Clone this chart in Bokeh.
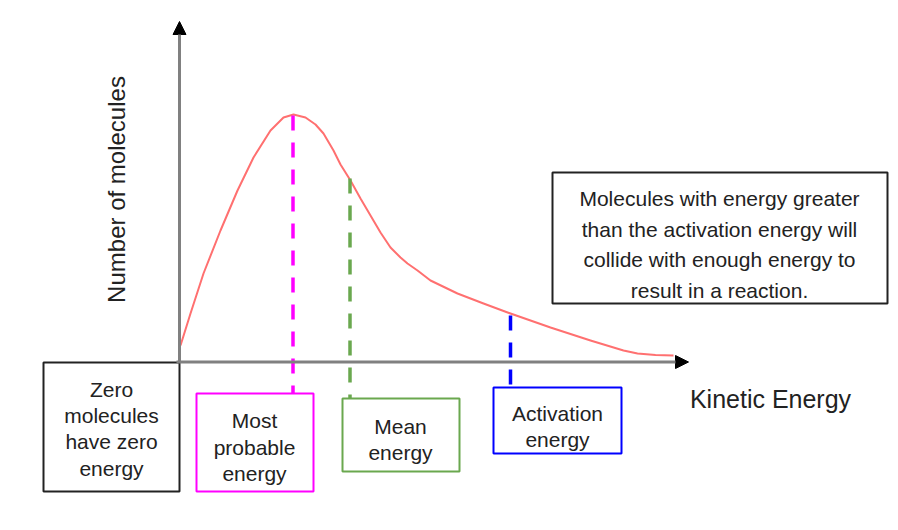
from bokeh.plotting import figure
from bokeh.models import Range1d, Arrow, NormalHead
from bokeh.core.properties import value
from bokeh.embed import file_html
from bokeh.resources import INLINE

# ---- data (energy units; 1 unit ~ 50 px in the reference) ----
energy = [0.02, 0.22, 0.48, 0.82, 1.16, 1.48, 1.82, 2.08, 2.28, 2.52, 2.72, 2.88, 3.08, 3.22,
          3.42, 3.62, 3.82, 4.02, 4.22, 4.42, 4.56, 4.76, 5.02, 5.56, 6.08, 6.62, 7.42, 8.22,
          8.88, 9.16, 9.52, 9.88]
molecules = [0.33, 0.97, 1.77, 2.63, 3.43, 4.09, 4.63, 4.89, 4.95, 4.89, 4.75, 4.57, 4.23, 3.95,
             3.63, 3.27, 2.93, 2.59, 2.29, 2.09, 1.97, 1.83, 1.63, 1.37, 1.17, 0.97, 0.69, 0.43,
             0.23, 0.17, 0.14, 0.13]

mark_names = ["Most probable energy", "Mean energy", "Activation energy"]
mark_energy = [2.27, 3.41, 6.62]
mark_height = [4.93, 3.67, 0.93]
mark_colors = ["#ff00ff", "#6aa84f", "#0000ff"]

x_title = "Kinetic Energy"
y_title = "Number of molecules"

box_texts = [
    ["Zero", "molecules", "have zero", "energy"],
    ["Most", "probable", "energy"],
    ["Mean", "energy"],
    ["Activation", "energy"],
    ["Molecules with energy greater", "than the activation energy will",
     "collide with enough energy to", "result in a reaction."],
]

# ---- layout helpers (pixel -> data) ----
W, H = 898, 530
X0, Y0, U = 179.0, 361.5, 50.0


def X(px):
    return (px - X0) / U


def Y(py):
    return (Y0 - py) / U


p = figure(width=W, height=H, output_backend="svg", toolbar_location=None,
           x_range=Range1d(X(0), X(W)), y_range=Range1d(Y(H), Y(0)),
           x_axis_location=None, y_axis_location=None, min_border=0)
p.grid.visible = False
p.outline_line_color = None
p.background_fill_color = "white"
p.border_fill_color = "white"

FONT = value("Liberation Sans")
TXT = "#222222"

# axes with arrows
p.add_layout(Arrow(x_start=X(179), y_start=Y(361.5), x_end=X(179), y_end=Y(21),
                   line_color="#808080", line_width=3,
                   end=NormalHead(size=13, fill_color="black", line_color="black")))
p.add_layout(Arrow(x_start=X(176), y_start=Y(361.5), x_end=X(688), y_end=Y(361.5),
                   line_color="#808080", line_width=3,
                   end=NormalHead(size=13, fill_color="black", line_color="black")))

# distribution curve
p.line(energy, molecules, line_color="#ff7070", line_width=2, line_join="round")

# boxes: (left, top, right, bottom) in px, border colour, font size, line height, centre x, first line y
boxes = [
    (43, 362, 179, 491, "#222222", 21, 26.2, 111, 389),
    (196, 393, 313, 491, "#ff00ff", 21, 26.5, 254, 420),
    (342, 398, 459, 471, "#6aa84f", 21, 26.0, 400, 426),
    (493, 387, 621, 453, "#0000ff", 21, 26.0, 557, 413),
    (552, 172, 887, 303, "#222222", 21, 30.5, 719, 198),
]

# dashed marker lines from curve down to their label boxes
box_tops = [boxes[1][1], boxes[2][1], boxes[3][1]]
p.segment(x0=mark_energy, y0=mark_height, x1=mark_energy, y1=[Y(t) for t in box_tops],
          line_color=mark_colors, line_width=3.5, line_dash="15 12")

for (l, t, r, b, col, fs, lh, cx, y1), lines in zip(boxes, box_texts):
    p.quad(left=X(l), right=X(r), top=Y(t), bottom=Y(b), fill_color="white",
           line_color=col, line_width=2)
    p.text(x=[X(cx)] * len(lines), y=[Y(y1 + i * lh) for i in range(len(lines))], text=lines,
           text_font=FONT, text_font_size=f"{fs}px", text_color=TXT,
           text_align="center", text_baseline="middle")

# axis titles
p.text(x=[X(770)], y=[Y(398)], text=[x_title], text_font=FONT, text_font_size="25px",
       text_color=TXT, text_align="center", text_baseline="middle")
p.text(x=[X(116)], y=[Y(189)], text=[y_title], text_font=FONT, text_font_size="24px",
       text_color=TXT, text_align="center", text_baseline="middle", angle=1.5707963)

open("out.html", "w").write(file_html(p, INLINE))
